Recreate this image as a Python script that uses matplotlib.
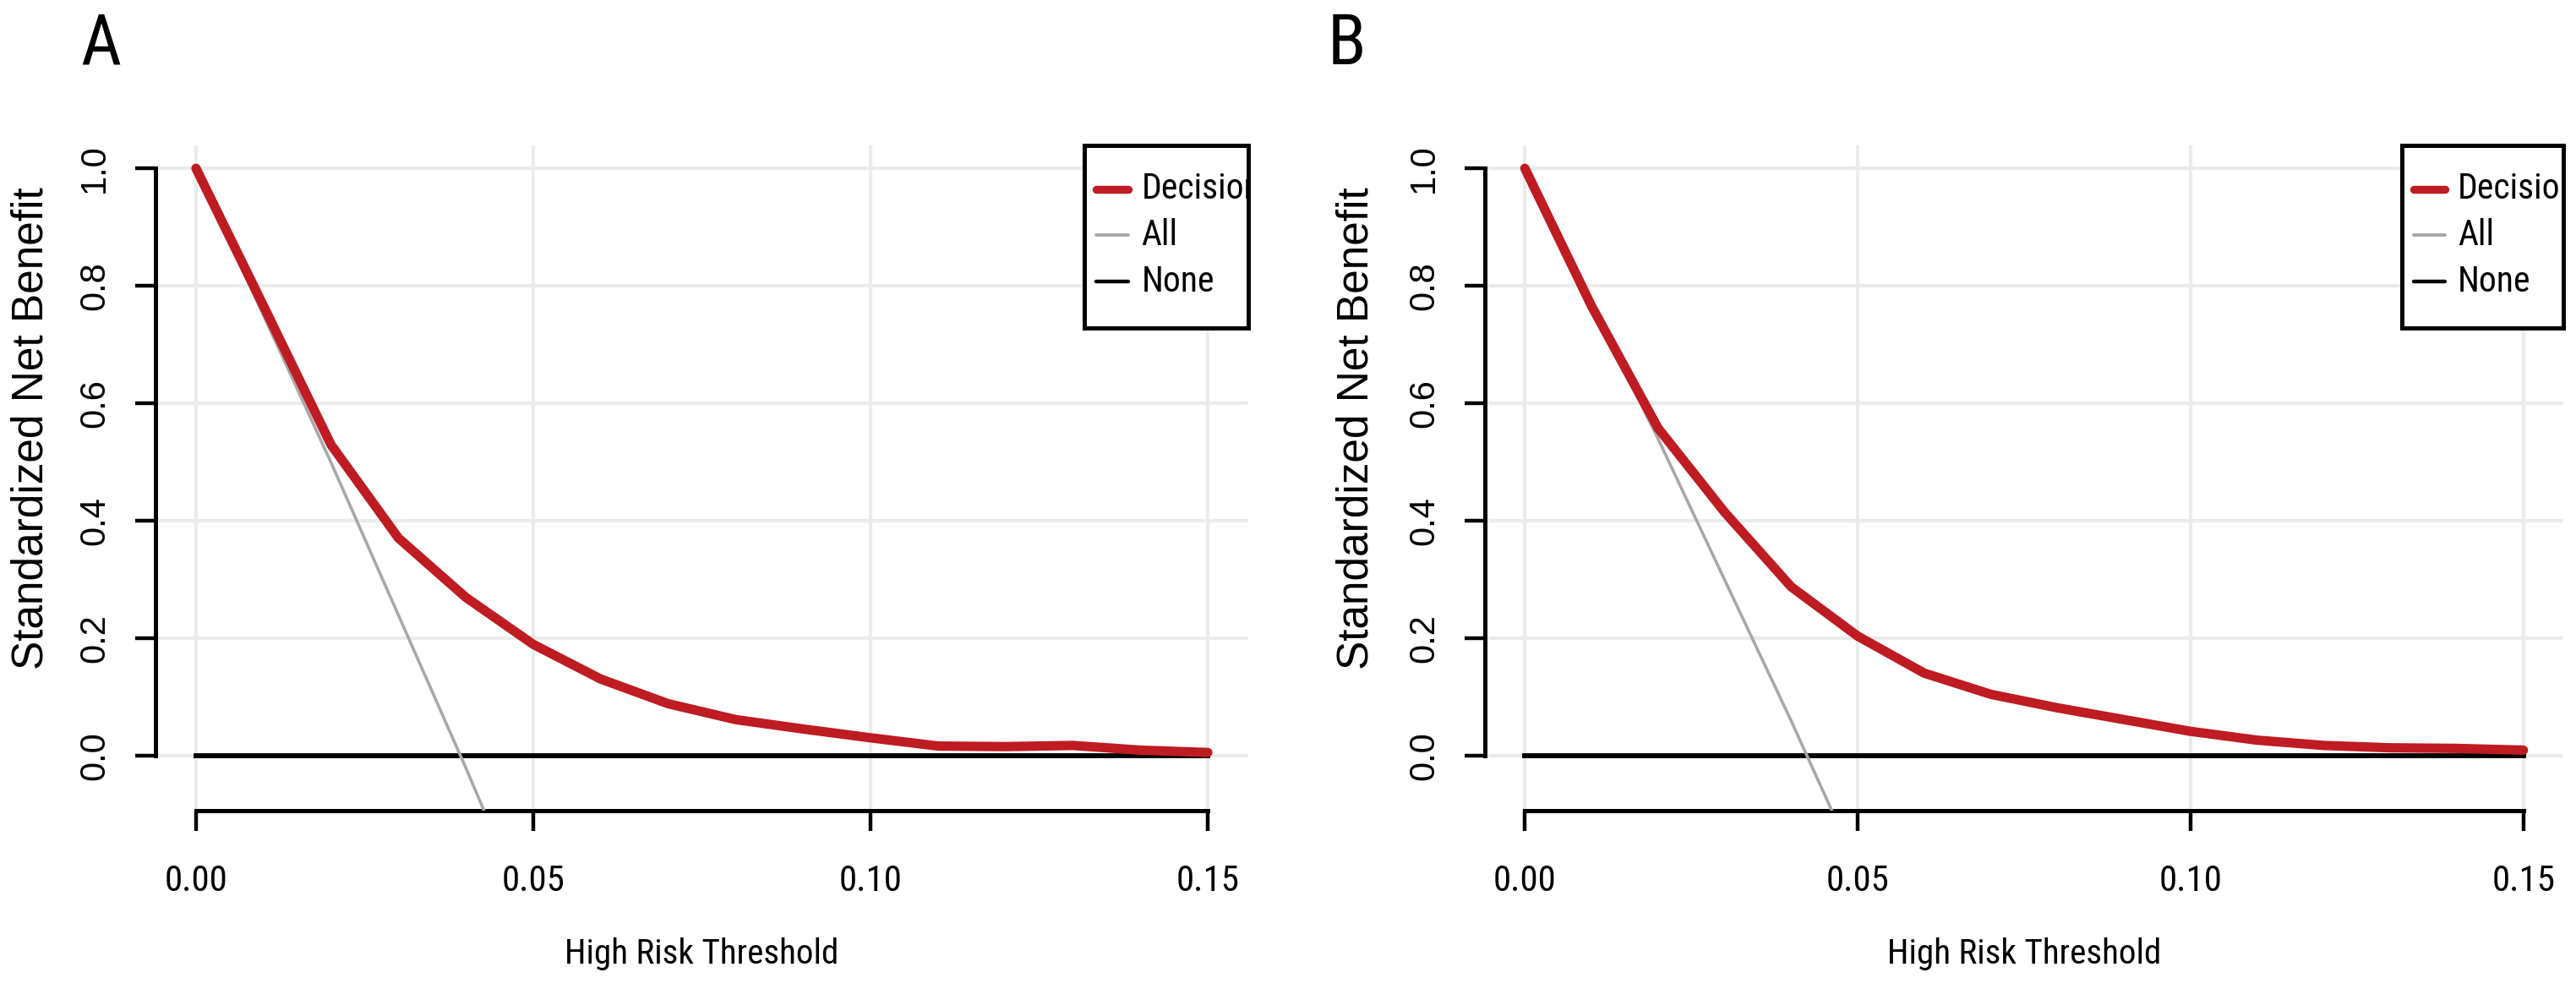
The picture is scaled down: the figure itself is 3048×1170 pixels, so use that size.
import matplotlib
matplotlib.use('Agg')
import matplotlib.pyplot as plt
from matplotlib.patches import Rectangle

plt.rcParams['font.family'] = ['Liberation Sans', 'DejaVu Sans']
# horizontal texts in the reference are set in a condensed face
NARROW = ['Roboto Condensed', 'PT Sans Narrow', 'Liberation Sans']

# thresholds used for the decision curves
thresholds = [0.00, 0.01, 0.02, 0.03, 0.04, 0.05, 0.06, 0.07,
              0.08, 0.09, 0.10, 0.11, 0.12, 0.13, 0.14, 0.15]

# panel A
a_decision = [1.0, 0.766, 0.53, 0.371, 0.27, 0.19, 0.131, 0.089,
              0.062, 0.046, 0.031, 0.017, 0.016, 0.018, 0.010, 0.006]
a_all = [1.0, 0.75, 0.50, 0.24, -0.02, -0.29]

# panel B
b_decision = [1.0, 0.766, 0.558, 0.415, 0.288, 0.204, 0.141, 0.105,
              0.082, 0.062, 0.042, 0.027, 0.018, 0.014, 0.013, 0.010]
b_all = [1.0, 0.77, 0.54, 0.30, 0.06, -0.19]

x_ticks = [0.00, 0.05, 0.10, 0.15]
x_labels = ['0.00', '0.05', '0.10', '0.15']
y_ticks = [0.0, 0.2, 0.4, 0.6, 0.8, 1.0]
y_labels = ['0.0', '0.2', '0.4', '0.6', '0.8', '1.0']
legend_labels = ['Decision', 'All', 'None']

RED = '#BF1B22'
GREY = '#A8A8A8'
GRID = '#EBEBEB'
LW_RED, LW_GREY, LW_NONE = 4.0, 1.3, 2.1

W, H = 3048, 1170
fig = plt.figure(figsize=(W / 200, H / 200), dpi=200)


def panel(rect, dec, allv, letter, letter_px, ylab_x):
    ax = fig.add_axes(rect)
    ax.set_xlim(-0.006, 0.156)
    ax.set_ylim(-0.093, 1.039)

    ax.set_xticks(x_ticks)
    ax.set_xticklabels(x_labels, family=NARROW, fontsize=15.5)
    ax.set_yticks(y_ticks)
    ax.set_yticklabels(y_labels, rotation=90, va='center', fontsize=15)
    ax.grid(True, color=GRID, lw=1.5)
    ax.set_axisbelow(True)

    for s in ['top', 'right']:
        ax.spines[s].set_visible(False)
    ax.spines['left'].set_bounds(0, 1)
    ax.spines['bottom'].set_bounds(0, 0.15)
    for s in ['left', 'bottom']:
        ax.spines[s].set_linewidth(1.8)
    ax.tick_params(axis='both', direction='out', length=8.6, width=1.6)
    ax.tick_params(axis='x', pad=14)
    ax.tick_params(axis='y', pad=10)

    # None, All, model curve
    ax.plot([thresholds[0], thresholds[-1]], [0, 0], color='black',
            lw=LW_NONE, zorder=2)
    ax.plot(thresholds[:len(allv)], allv, color=GREY, lw=LW_GREY, zorder=3)
    ax.plot(thresholds, dec, color=RED, lw=LW_RED, zorder=4,
            solid_capstyle='round', solid_joinstyle='round')

    ax.set_xlabel('High Risk Threshold', family=NARROW, fontsize=14.8)
    ax.xaxis.set_label_coords(0.5, -0.19)
    ax.set_ylabel('Standardized Net Benefit', fontsize=18.5)
    ax.yaxis.set_label_coords(ylab_x, 0.575)

    # legend box, anchored at the top right corner and clipped like R's
    ax.add_patch(Rectangle((0.850, 0.7255), 0.150, 0.2745,
                           transform=ax.transAxes, facecolor='white',
                           edgecolor='black', lw=1.8, clip_on=False,
                           zorder=5))
    rows = [0.934, 0.865, 0.795]
    styles = [(RED, 3.4), (GREY, 1.4), ('black', 1.6)]
    for yy, (c, lw), lab in zip(rows, styles, legend_labels):
        ax.plot([0.861, 0.890], [yy, yy], transform=ax.transAxes, color=c,
                lw=lw, solid_capstyle='round', zorder=6)
        t = ax.text(0.902, yy, lab, transform=ax.transAxes, fontsize=15,
                    family=NARROW, ha='left', va='center', zorder=6)
        t.set_clip_path(ax.patch)
        t.set_clip_on(True)

    fig.text(letter_px / W, 1 - 76 / H, letter, fontsize=30, family=NARROW,
             ha='left', va='baseline')
    return ax


panel([184 / W, 0.1803, 1293 / W, 0.6727], a_decision, a_all, 'A', 95,
      -0.095)
panel([1757 / W, 0.1803, 1276 / W, 0.6727], b_decision, b_all, 'B', 1571,
      -0.100)

fig.savefig('out.png', dpi=200, facecolor='white')
